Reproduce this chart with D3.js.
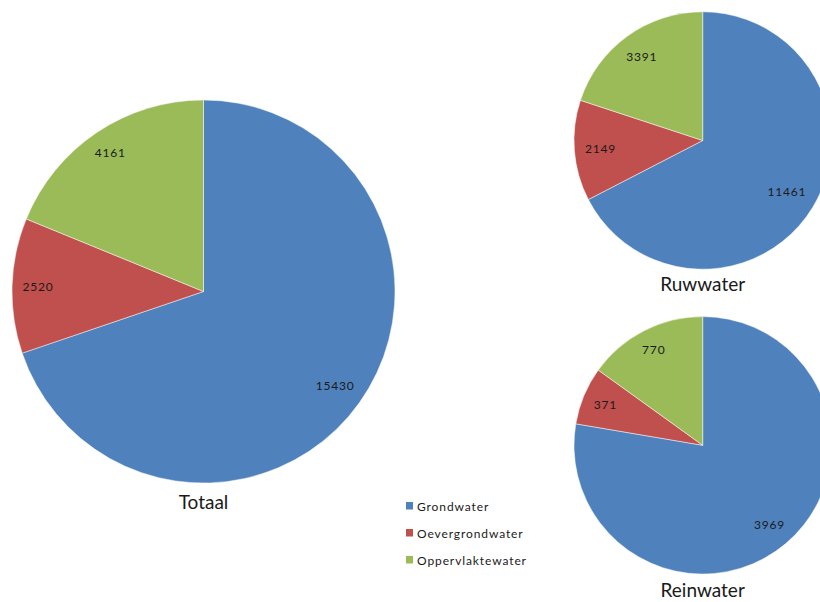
<!DOCTYPE html>
<html>
<head>
<meta charset="utf-8">
<script src="https://cdn.jsdelivr.net/npm/d3@7"></script>
<style>
  html, body { margin: 0; padding: 0; background: #fff; }
  svg { display: block; font-family: Lato, "Open Sans", sans-serif; }
</style>
</head>
<body>
<svg id="chart" width="820" height="602"></svg>
<script>
// Water sources (drinking-water production), per category
const categories = ["Grondwater", "Oevergrondwater", "Oppervlaktewater"];
const colors = ["#4F81BD", "#C0504D", "#9BBB59"];

const totaalValues = [15430, 2520, 4161];
const ruwwaterValues = [11461, 2149, 3391];
const reinwaterValues = [3969, 371, 770];

const pies = [
  { title: "Totaal", values: totaalValues, cx: 203.5, cy: 291.5, r: 191.5, titleY: 509 },
  { title: "Ruwwater", values: ruwwaterValues, cx: 702.7, cy: 140.5, r: 128.7, titleY: 291 },
  { title: "Reinwater", values: reinwaterValues, cx: 702.7, cy: 445.3, r: 128.7, titleY: 597 }
];

const svg = d3.select("#chart");
const color = d3.scaleOrdinal().domain(categories).range(colors);

const pieGen = d3.pie().sort(null).value(d => d.value);

pies.forEach(p => {
  const data = categories.map((c, i) => ({ cat: c, value: p.values[i] }));
  const arcs = pieGen(data);
  const arc = d3.arc().innerRadius(0).outerRadius(p.r);
  const g = svg.append("g").attr("transform", `translate(${p.cx},${p.cy})`);

  g.selectAll("path")
    .data(arcs)
    .join("path")
    .attr("d", arc)
    .attr("fill", d => color(d.data.cat))
    .attr("stroke", "#ffffff")
    .attr("stroke-opacity", 0.6)
    .attr("stroke-width", 0.8);

  // value labels, pushed toward the rim so the text box sits just inside the arc
  const labels = g.selectAll("text.val")
    .data(arcs)
    .join("text")
    .attr("class", "val")
    .attr("text-anchor", "middle")
    .attr("dominant-baseline", "central")
    .attr("font-size", 12)
    .attr("letter-spacing", 0.8)
    .attr("fill", "#1a1a1a")
    .text(d => d.data.value);

  labels.each(function(d) {
    const bb = this.getBBox();
    const hw = bb.width / 2, hh = bb.height / 2 - 1;
    const a = (d.startAngle + d.endAngle) / 2;
    const sx = Math.sin(a), sy = -Math.cos(a);
    const R = p.r - 10;
    const b = Math.abs(sx) * hw + Math.abs(sy) * hh;
    const c = hw * hw + hh * hh - R * R;
    const dist = -b + Math.sqrt(b * b - c);
    d3.select(this).attr("x", dist * sx).attr("y", dist * sy);
  });

  svg.append("text")
    .attr("x", p.cx)
    .attr("y", p.titleY)
    .attr("text-anchor", "middle")
    .attr("font-size", 19)
    .attr("fill", "#1a1a1a")
    .text(p.title);
});

// legend
const legend = svg.append("g").attr("transform", "translate(406,502)");
const items = legend.selectAll("g")
  .data(categories)
  .join("g")
  .attr("transform", (d, i) => `translate(0,${i * 27})`);
items.append("rect")
  .attr("width", 7)
  .attr("height", 7.5)
  .attr("fill", d => color(d));
items.append("text")
  .attr("x", 11)
  .attr("y", 4)
  .attr("dominant-baseline", "central")
  .attr("font-size", 12)
  .attr("letter-spacing", 0.9)
  .attr("fill", "#1a1a1a")
  .text(d => d);
</script>
</body>
</html>
